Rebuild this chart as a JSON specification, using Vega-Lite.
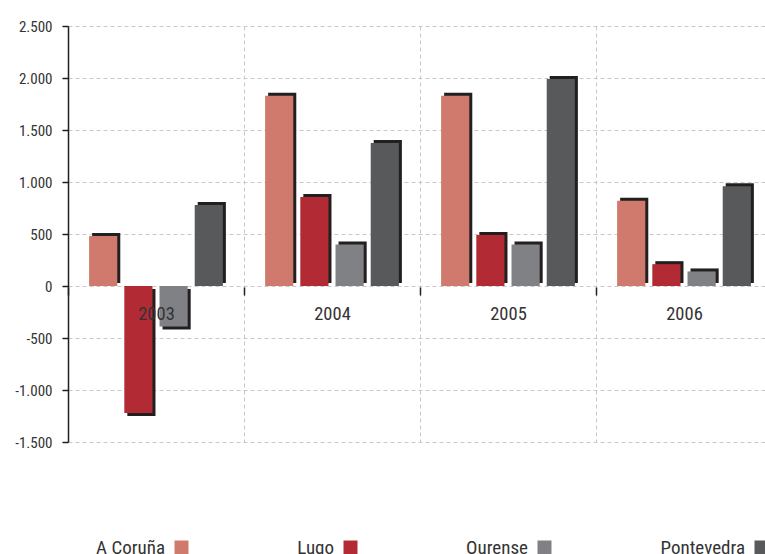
{
  "$schema": "https://vega.github.io/schema/vega-lite/v6.json",
  "width": 697,
  "height": 416,
  "autosize": {"type": "none"},
  "padding": {"left": 68, "top": 26, "right": 0, "bottom": 112},
  "background": "white",
  "config": {
    "view": {"stroke": null},
    "font": "Roboto Condensed, Roboto, sans-serif",
    "locale": {"number": {"decimal": ",", "thousands": ".", "grouping": [3], "currency": ["", " €"], "minus": "-"}}
  },
  "data": {"values": [
    {"year": "2003", "province": "A Coruña", "value": 480},
    {"year": "2003", "province": "Lugo", "value": -1220},
    {"year": "2003", "province": "Ourense", "value": -390},
    {"year": "2003", "province": "Pontevedra", "value": 780},
    {"year": "2004", "province": "A Coruña", "value": 1830},
    {"year": "2004", "province": "Lugo", "value": 855},
    {"year": "2004", "province": "Ourense", "value": 400},
    {"year": "2004", "province": "Pontevedra", "value": 1375},
    {"year": "2005", "province": "A Coruña", "value": 1830},
    {"year": "2005", "province": "Lugo", "value": 490},
    {"year": "2005", "province": "Ourense", "value": 400},
    {"year": "2005", "province": "Pontevedra", "value": 1990},
    {"year": "2006", "province": "A Coruña", "value": 820},
    {"year": "2006", "province": "Lugo", "value": 210},
    {"year": "2006", "province": "Ourense", "value": 140},
    {"year": "2006", "province": "Pontevedra", "value": 960}
  ]},
  "encoding": {
    "x": {
      "field": "year", "type": "nominal",
      "scale": {"range": [0, 704], "paddingInner": 0, "paddingOuter": 0},
      "axis": {
        "orient": "bottom", "offset": -155, "domain": false, "tickBand": "extent",
        "tickSize": 8, "tickColor": "#231f20", "tickWidth": 1.5,
        "labelFontSize": 18.5, "labelColor": "#333333", "labelPadding": 9, "labelAngle": 0,
        "grid": true, "gridColor": "#c8c8c8", "gridDash": [4, 3], "gridWidth": 1,
        "title": null, "zindex": 1
      }
    }
  },
  "resolve": {"scale": {"xOffset": "independent"}, "axis": {"y": "independent"}},
  "layer": [
    {
      "layer": [
        {
          "transform": [{"filter": "datum.value >= 0"}],
          "mark": {"type": "bar", "color": "#231f20", "yOffset": -3, "y2Offset": -3}
        },
        {
          "transform": [{"filter": "datum.value < 0"}],
          "mark": {"type": "bar", "color": "#231f20", "yOffset": 3, "y2Offset": -3}
        }
      ],
      "encoding": {
        "xOffset": {
          "field": "province", "type": "nominal",
          "sort": ["A Coruña", "Lugo", "Ourense", "Pontevedra"],
          "scale": {"paddingInner": 0.2, "paddingOuter": 0.6, "align": 0.571}
        },
        "y": {
          "field": "value", "type": "quantitative",
          "scale": {"domain": [-1500, 2500], "nice": false},
          "axis": {
            "orient": "left",
            "values": [-1500, -1000, -500, 0, 500, 1000, 1500, 2000, 2500],
            "domain": false, "ticks": false, "labels": false, "title": null,
            "grid": true, "gridColor": "#c8c8c8", "gridDash": [4, 3], "gridWidth": 1,
            "minExtent": 0, "maxExtent": 0, "zindex": 0
          }
        }
      }
    },
    {
      "mark": {"type": "bar"},
      "encoding": {
        "xOffset": {
          "field": "province", "type": "nominal",
          "sort": ["A Coruña", "Lugo", "Ourense", "Pontevedra"],
          "scale": {"paddingInner": 0.2, "paddingOuter": 0.6, "align": 0.5}
        },
        "y": {
          "field": "value", "type": "quantitative",
          "scale": {"domain": [-1500, 2500], "nice": false},
          "axis": {
            "orient": "left",
            "values": [-1500, -1000, -500, 0, 500, 1000, 1500, 2000, 2500],
            "format": ",d", "grid": false,
            "domainColor": "#231f20", "domainWidth": 1.5,
            "tickColor": "#231f20", "tickSize": 6, "tickWidth": 1.5,
            "labelFontSize": 15, "labelColor": "#333333", "labelPadding": 10,
            "title": null, "zindex": 2
          }
        },
        "color": {
          "field": "province", "type": "nominal",
          "scale": {"domain": ["A Coruña", "Lugo", "Ourense", "Pontevedra"], "range": ["#d07a6d", "#b22a33", "#808184", "#58595b"]},
          "legend": {
            "orient": "none", "legendX": 104, "legendY": 512, "direction": "horizontal",
            "title": null, "symbolType": "square", "symbolSize": 196, "symbolStrokeWidth": 0,
            "labelAlign": "right", "labelOffset": -26, "labelFontSize": 19, "labelColor": "#333333",
            "columnPadding": 108, "gridAlign": "none", "padding": 0
          }
        }
      }
    }
  ]
}
